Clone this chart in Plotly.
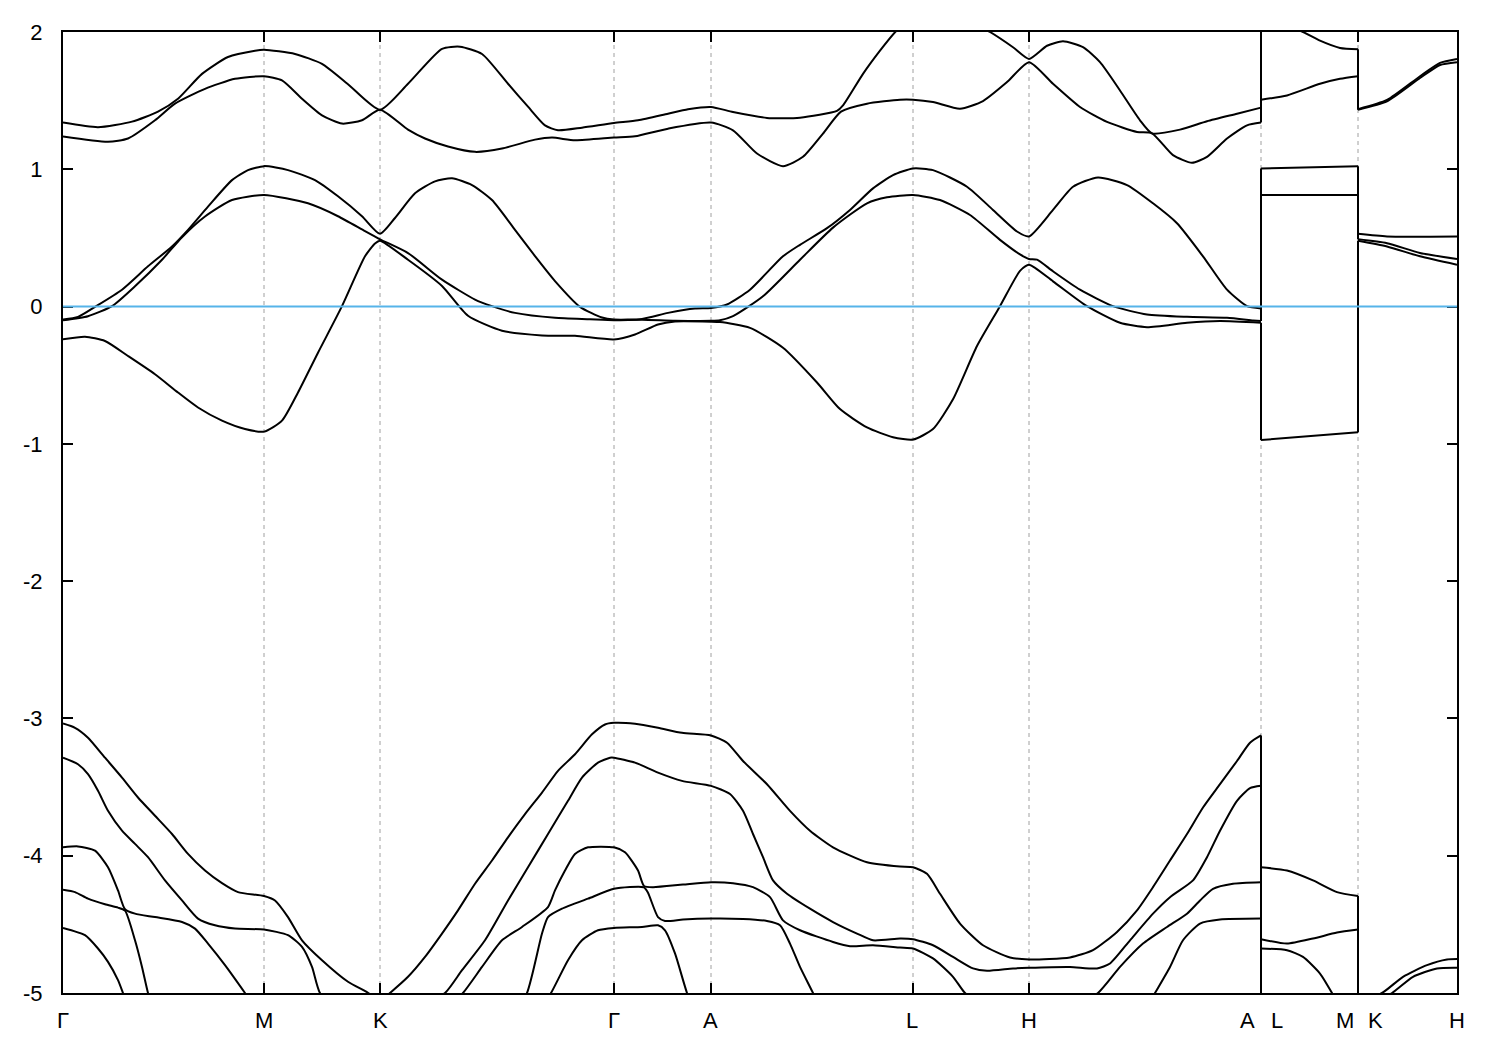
import plotly.graph_objects as go

# high-symmetry positions along the path (path units)
KPATH = [0.0, 2.01, 3.17, 5.51, 6.48, 8.50, 9.66, 11.98, 12.95, 13.94]
LABELS = ["Γ", "M", "K", "Γ", "A", "L", "H", "A", "L", "M", "K", "H"]
LABEL_POS = [0.0, 2.01, 3.17, 5.51, 6.47, 8.49, 9.66, 11.84, 12.14, 12.82, 13.12, 13.94]
Y_TICKS = [2, 1, 0, -1, -2, -3, -4, -5]

# bands: each band = [segment Γ..A, segment L..M, segment K..H], points (k, E in eV)
V5 = [
    [(0, -4.526), (0.22, -4.579), (0.35, -4.676), (0.45, -4.773), (0.55, -4.906), (0.60, -5.0), (0.70, -5.2),
     (1.0, -5.5), (2.01, -5.8), (3.17, -5.9), (4.3, -5.6), (4.7, -5.2), (4.88, -5.0), (5.05, -4.761),
     (5.19, -4.616), (5.35, -4.543), (5.51, -4.526), (5.79, -4.519), (5.95, -4.507), (6.02, -4.543),
     (6.12, -4.712), (6.24, -5.0), (6.4, -5.3), (6.48, -5.4), (8.50, -5.8), (9.66, -5.9), (11.98, -5.6)],
    [(11.98, -5.8), (12.95, -5.9)],
    [(12.95, -6.0), (13.94, -5.8)],
]
V4 = [
    [(0, -4.248), (0.12, -4.265), (0.25, -4.313), (0.42, -4.354), (0.55, -4.378), (0.62, -4.40), (0.72, -4.616),
     (0.79, -4.81), (0.85, -5.0), (0.95, -5.25), (1.3, -5.45), (2.01, -5.6), (3.17, -5.7), (4.0, -5.5),
     (4.4, -5.3), (4.64, -5.0), (4.79, -4.567), (4.85, -4.447), (4.99, -4.386), (5.25, -4.313), (5.51, -4.241),
     (5.81, -4.23), (5.85, -4.27), (5.95, -4.447), (6.02, -4.475), (6.20, -4.465), (6.48, -4.458),
     (6.80, -4.461), (7.04, -4.476), (7.17, -4.507), (7.27, -4.64), (7.37, -4.81), (7.50, -5.0), (7.7, -5.3),
     (8.50, -5.5), (9.66, -5.6), (10.6, -5.4), (10.92, -5.0), (11.07, -4.81), (11.20, -4.616), (11.37, -4.494),
     (11.57, -4.465), (11.98, -4.458)],
    [(11.98, -5.4), (12.95, -5.6)],
    [(12.95, -5.5), (13.94, -5.4)],
]
V3 = [
    [(0, -3.939), (0.15, -3.932), (0.32, -3.963), (0.45, -4.084), (0.55, -4.253), (0.62, -4.39), (0.72, -4.422),
     (0.92, -4.447), (1.19, -4.483), (1.32, -4.531), (1.45, -4.64), (1.62, -4.797), (1.82, -5.0), (2.01, -5.2),
     (2.5, -5.4), (3.17, -5.45), (3.6, -5.3), (4.00, -5.0), (4.19, -4.81), (4.39, -4.616), (4.59, -4.519),
     (4.85, -4.374), (4.92, -4.253), (5.02, -4.108), (5.12, -3.987), (5.25, -3.939), (5.51, -3.939),
     (5.62, -3.975), (5.75, -4.108), (5.81, -4.22), (5.90, -4.229), (6.20, -4.21), (6.48, -4.193),
     (6.70, -4.2), (6.90, -4.229), (7.07, -4.302), (7.20, -4.471), (7.37, -4.543), (7.70, -4.628),
     (7.87, -4.659), (8.10, -4.652), (8.37, -4.669), (8.50, -4.676), (8.70, -4.748), (8.90, -4.882),
     (9.02, -5.0), (9.3, -5.15), (9.66, -5.2), (10.0, -5.15), (10.35, -5.0), (10.57, -4.81), (10.80, -4.64),
     (11.04, -4.519), (11.24, -4.422), (11.37, -4.326), (11.50, -4.241), (11.70, -4.204), (11.98, -4.193)],
    [(11.98, -4.676), (12.24, -4.688), (12.40, -4.737), (12.57, -4.858), (12.69, -5.0), (12.80, -5.15),
     (12.95, -5.25)],
    [(12.95, -5.3), (13.94, -5.2)],
]
V2 = [
    [(0, -3.286), (0.15, -3.334), (0.25, -3.406), (0.35, -3.527), (0.45, -3.673), (0.59, -3.818), (0.72, -3.914),
     (0.85, -4.011), (1.02, -4.18), (1.19, -4.326), (1.35, -4.458), (1.52, -4.507), (1.72, -4.531),
     (2.01, -4.538), (2.25, -4.579), (2.39, -4.664), (2.49, -4.81), (2.57, -5.0), (2.75, -5.12), (3.17, -5.15),
     (3.55, -5.1), (3.82, -5.0), (3.99, -4.834), (4.22, -4.616), (4.45, -4.326), (4.65, -4.084), (4.85, -3.842),
     (5.05, -3.6), (5.19, -3.431), (5.35, -3.322), (5.47, -3.286), (5.51, -3.286), (5.72, -3.322),
     (5.95, -3.395), (6.19, -3.455), (6.48, -3.491), (6.67, -3.551), (6.80, -3.673), (6.90, -3.842),
     (7.00, -4.011), (7.10, -4.18), (7.24, -4.277), (7.47, -4.386), (7.70, -4.483), (7.94, -4.567),
     (8.10, -4.616), (8.37, -4.603), (8.50, -4.608), (8.70, -4.652), (8.90, -4.737), (9.10, -4.821),
     (9.24, -4.838), (9.50, -4.821), (9.66, -4.816), (10.07, -4.81), (10.34, -4.821), (10.47, -4.785),
     (10.67, -4.616), (10.90, -4.422), (11.07, -4.302), (11.30, -4.18), (11.44, -4.011), (11.57, -3.818),
     (11.74, -3.6), (11.87, -3.508), (11.98, -3.491)],
    [(11.98, -4.608), (12.24, -4.64), (12.50, -4.603), (12.74, -4.56), (12.95, -4.538)],
    [(12.95, -5.15), (13.10, -5.07), (13.29, -5.0), (13.50, -4.882), (13.74, -4.821), (13.94, -4.816)],
]
V1 = [
    [(0, -3.037), (0.12, -3.068), (0.25, -3.14), (0.42, -3.286), (0.59, -3.431), (0.75, -3.576), (0.92, -3.709),
     (1.09, -3.842), (1.25, -3.987), (1.42, -4.108), (1.59, -4.2), (1.75, -4.265), (2.01, -4.294),
     (2.12, -4.326), (2.25, -4.447), (2.39, -4.616), (2.59, -4.761), (2.85, -4.918), (3.05, -4.998),
     (3.17, -5.06), (3.27, -5.0), (3.45, -4.882), (3.62, -4.737), (3.79, -4.567), (3.95, -4.398),
     (4.12, -4.204), (4.29, -4.035), (4.45, -3.866), (4.62, -3.697), (4.79, -3.54), (4.95, -3.382),
     (5.12, -3.261), (5.29, -3.116), (5.42, -3.044), (5.51, -3.032), (5.72, -3.039), (5.95, -3.068),
     (6.19, -3.105), (6.48, -3.124), (6.64, -3.177), (6.80, -3.31), (7.04, -3.479), (7.27, -3.673),
     (7.47, -3.818), (7.70, -3.939), (8.04, -4.048), (8.37, -4.079), (8.50, -4.084), (8.64, -4.132),
     (8.77, -4.277), (8.97, -4.494), (9.20, -4.652), (9.47, -4.741), (9.66, -4.756), (10.07, -4.741),
     (10.30, -4.688), (10.54, -4.555), (10.74, -4.398), (10.90, -4.229), (11.07, -4.035), (11.24, -3.842),
     (11.40, -3.649), (11.57, -3.479), (11.74, -3.31), (11.87, -3.177), (11.98, -3.124)],
    [(11.98, -4.084), (12.24, -4.108), (12.50, -4.18), (12.74, -4.265), (12.95, -4.294)],
    [(12.95, -5.06), (13.19, -5.0), (13.40, -4.882), (13.64, -4.797), (13.84, -4.756), (13.94, -4.753)],
]
C1 = [
    [(0, -0.239), (0.22, -0.22), (0.42, -0.251), (0.65, -0.36), (0.92, -0.493), (1.15, -0.626), (1.35, -0.735),
     (1.59, -0.831), (1.82, -0.892), (2.01, -0.911), (2.19, -0.831), (2.35, -0.626), (2.55, -0.336),
     (2.79, 0.003), (3.02, 0.366), (3.12, 0.46), (3.17, 0.48), (3.45, 0.341), (3.79, 0.15), (4.05, -0.067),
     (4.39, -0.176), (4.79, -0.21), (5.12, -0.213), (5.51, -0.239), (5.72, -0.203), (5.95, -0.13),
     (6.12, -0.108), (6.48, -0.11), (6.57, -0.113), (6.87, -0.155), (7.20, -0.3), (7.54, -0.553),
     (7.77, -0.747), (8.04, -0.88), (8.30, -0.952), (8.50, -0.969), (8.70, -0.892), (8.90, -0.675),
     (9.14, -0.287), (9.37, 0.003), (9.57, 0.26), (9.66, 0.305), (9.90, 0.184), (10.24, 0.003),
     (10.57, -0.118), (10.84, -0.15), (11.24, -0.118), (11.57, -0.106), (11.98, -0.118)],
    [(11.98, -0.972), (12.95, -0.916)],
    [(12.95, 0.48), (13.24, 0.438), (13.57, 0.366), (13.94, 0.305)],
]
C2 = [
    [(0, -0.1), (0.25, -0.07), (0.49, 0.003), (0.72, 0.148), (0.99, 0.341), (1.19, 0.505), (1.42, 0.656),
     (1.69, 0.776), (2.01, 0.813), (2.45, 0.752), (2.75, 0.658), (3.02, 0.549), (3.17, 0.49), (3.45, 0.39),
     (3.79, 0.196), (4.12, 0.051), (4.29, 0.003), (4.52, -0.046), (4.92, -0.082), (5.27, -0.092),
     (5.51, -0.099), (5.79, -0.096), (6.12, -0.103), (6.48, -0.104), (6.57, -0.1), (6.70, -0.07),
     (7.00, 0.075), (7.37, 0.341), (7.70, 0.575), (8.04, 0.752), (8.24, 0.796), (8.50, 0.813), (8.77, 0.776),
     (9.07, 0.667), (9.37, 0.486), (9.57, 0.38), (9.66, 0.347), (9.74, 0.342), (9.90, 0.257), (10.17, 0.123),
     (10.50, 0.003), (10.84, -0.058), (11.24, -0.075), (11.64, -0.082), (11.90, -0.101), (11.98, -0.106)],
    [(11.98, 0.813), (12.95, 0.813)],
    [(12.95, 0.49), (13.24, 0.462), (13.57, 0.39), (13.94, 0.347)],
]
C3 = [
    [(0, -0.094), (0.15, -0.075), (0.32, -0.002), (0.59, 0.123), (0.85, 0.293), (1.09, 0.438), (1.25, 0.559),
     (1.45, 0.728), (1.69, 0.921), (1.85, 0.994), (2.01, 1.023), (2.25, 0.994), (2.52, 0.921), (2.75, 0.803),
     (2.99, 0.658), (3.17, 0.53), (3.32, 0.645), (3.52, 0.825), (3.72, 0.912), (3.89, 0.934), (4.09, 0.885),
     (4.29, 0.776), (4.52, 0.559), (4.72, 0.368), (4.92, 0.186), (5.17, -0.002), (5.39, -0.08), (5.51, -0.094),
     (5.79, -0.09), (6.05, -0.046), (6.32, -0.014), (6.48, -0.01), (6.64, 0.015), (6.87, 0.123), (7.20, 0.366),
     (7.37, 0.45), (7.64, 0.571), (7.87, 0.704), (8.10, 0.861), (8.30, 0.957), (8.50, 1.006), (8.70, 0.994),
     (9.04, 0.873), (9.30, 0.704), (9.54, 0.547), (9.66, 0.511), (9.90, 0.704), (10.10, 0.873),
     (10.35, 0.941), (10.64, 0.885), (10.90, 0.752), (11.14, 0.607), (11.40, 0.366), (11.64, 0.123),
     (11.84, 0.003), (11.98, -0.014)],
    [(11.98, 1.006), (12.95, 1.023)],
    [(12.95, 0.53), (13.24, 0.511), (13.94, 0.511)],
]
U4 = [
    [(0, 1.238), (0.45, 1.20), (0.65, 1.224), (0.92, 1.357), (1.12, 1.478), (1.42, 1.586), (1.72, 1.659),
     (2.01, 1.678), (2.19, 1.647), (2.39, 1.514), (2.59, 1.393), (2.79, 1.333), (2.99, 1.357), (3.17, 1.434),
     (3.45, 1.289), (3.62, 1.224), (3.85, 1.166), (4.12, 1.127), (4.39, 1.151), (4.72, 1.216), (4.89, 1.231),
     (5.12, 1.211), (5.51, 1.231), (5.72, 1.24), (6.05, 1.296), (6.48, 1.34), (6.70, 1.284), (6.94, 1.115),
     (7.20, 1.023), (7.40, 1.091), (7.60, 1.26), (7.78, 1.42), (8.04, 1.478), (8.37, 1.507), (8.50, 1.507),
     (8.70, 1.49), (8.97, 1.441), (9.20, 1.497), (9.44, 1.635), (9.66, 1.78), (9.90, 1.623), (10.17, 1.454),
     (10.44, 1.345), (10.74, 1.272), (10.89, 1.262), (11.10, 1.103), (11.29, 1.047), (11.44, 1.091),
     (11.64, 1.224), (11.84, 1.32), (11.98, 1.34)],
    [(11.98, 1.507), (12.24, 1.538), (12.57, 1.623), (12.77, 1.659), (12.95, 1.678)],
    [(12.95, 1.434), (13.24, 1.495), (13.57, 1.665), (13.77, 1.76), (13.94, 1.78)],
]
U5 = [
    [(0, 1.34), (0.35, 1.306), (0.69, 1.347), (0.95, 1.42), (1.15, 1.514), (1.39, 1.695), (1.65, 1.818),
     (1.92, 1.864), (2.01, 1.871), (2.32, 1.84), (2.59, 1.768), (2.85, 1.62), (3.17, 1.434), (3.45, 1.623),
     (3.79, 1.877), (3.97, 1.893), (4.19, 1.84), (4.45, 1.623), (4.65, 1.456), (4.82, 1.32), (4.95, 1.284),
     (5.19, 1.303), (5.51, 1.337), (5.75, 1.357), (6.05, 1.405), (6.25, 1.437), (6.48, 1.454), (6.70, 1.417),
     (7.04, 1.374), (7.37, 1.376), (7.74, 1.425), (7.80, 1.465), (8.00, 1.695), (8.17, 1.864), (8.32, 1.998),
     (8.50, 2.12), (8.80, 2.15), (9.05, 2.08), (9.27, 2.0), (9.50, 1.889), (9.66, 1.804), (9.84, 1.9),
     (10.00, 1.932), (10.20, 1.889), (10.37, 1.78), (10.57, 1.574), (10.77, 1.357), (10.89, 1.262),
     (11.17, 1.289), (11.44, 1.35), (11.74, 1.405), (11.98, 1.449)],
    [(11.98, 2.12), (12.40, 2.0), (12.57, 1.937), (12.77, 1.884), (12.95, 1.874)],
    [(12.95, 1.438), (13.24, 1.505), (13.57, 1.678), (13.77, 1.775), (13.94, 1.804)],
]

BANDS = [V5, V4, V3, V2, V1, C1, C2, C3, U4, U5]

FONT = "Liberation Sans, Arial, Helvetica, sans-serif"

fig = go.Figure()
for band in BANDS:
    for seg in band:
        fig.add_trace(go.Scatter(
            x=[p[0] for p in seg], y=[p[1] for p in seg], mode="lines",
            line=dict(color="black", width=2, shape="spline", smoothing=0.6),
            showlegend=False, hoverinfo="skip"))
    # connections across the path breaks
    jx, jy = [], []
    for i in range(len(band) - 1):
        jx += [band[i][-1][0], band[i + 1][0][0], None]
        jy += [band[i][-1][1], band[i + 1][0][1], None]
    fig.add_trace(go.Scatter(x=jx, y=jy, mode="lines", line=dict(color="black", width=2),
                             showlegend=False, hoverinfo="skip"))

shapes = []
for k in KPATH[1:-1]:
    shapes.append(dict(type="line", xref="x", yref="paper", x0=k, x1=k, y0=0, y1=1, layer="below",
                       line=dict(color="#a0a0a0", width=1, dash="4px,4px")))
shapes.append(dict(type="line", xref="paper", yref="y", x0=0, x1=1, y0=0, y1=0, layer="above",
                   line=dict(color="#56b4e9", width=2)))

annotations = []
for lab, pos in zip(LABELS, LABEL_POS):
    annotations.append(dict(x=pos, y=0, xref="x", yref="paper", text=lab, showarrow=False,
                            yanchor="middle", xanchor="center", yshift=-27,
                            font=dict(family=FONT, size=22, color="black")))

fig.update_layout(
    width=1500, height=1050, autosize=False,
    margin=dict(l=55, r=51, t=16, b=65),
    paper_bgcolor="white", plot_bgcolor="white",
    shapes=shapes, annotations=annotations,
    font=dict(family=FONT, size=22, color="black"),
    xaxis=dict(range=[KPATH[0], KPATH[-1]], tickvals=KPATH, showticklabels=False,
               ticks="inside", ticklen=10, tickwidth=2, tickcolor="black",
               showline=True, linecolor="black", linewidth=2, mirror="ticks",
               showgrid=False, zeroline=False),
    yaxis=dict(range=[-5, 2], tickvals=Y_TICKS, ticktext=[str(t) for t in Y_TICKS],
               ticks="inside", ticklen=10, tickwidth=2, tickcolor="black",
               showline=True, linecolor="black", linewidth=2, mirror="ticks",
               showgrid=False, zeroline=False, ticklabelstandoff=14,
               tickfont=dict(family=FONT, size=22)),
)

fig.write_html("out.html")
